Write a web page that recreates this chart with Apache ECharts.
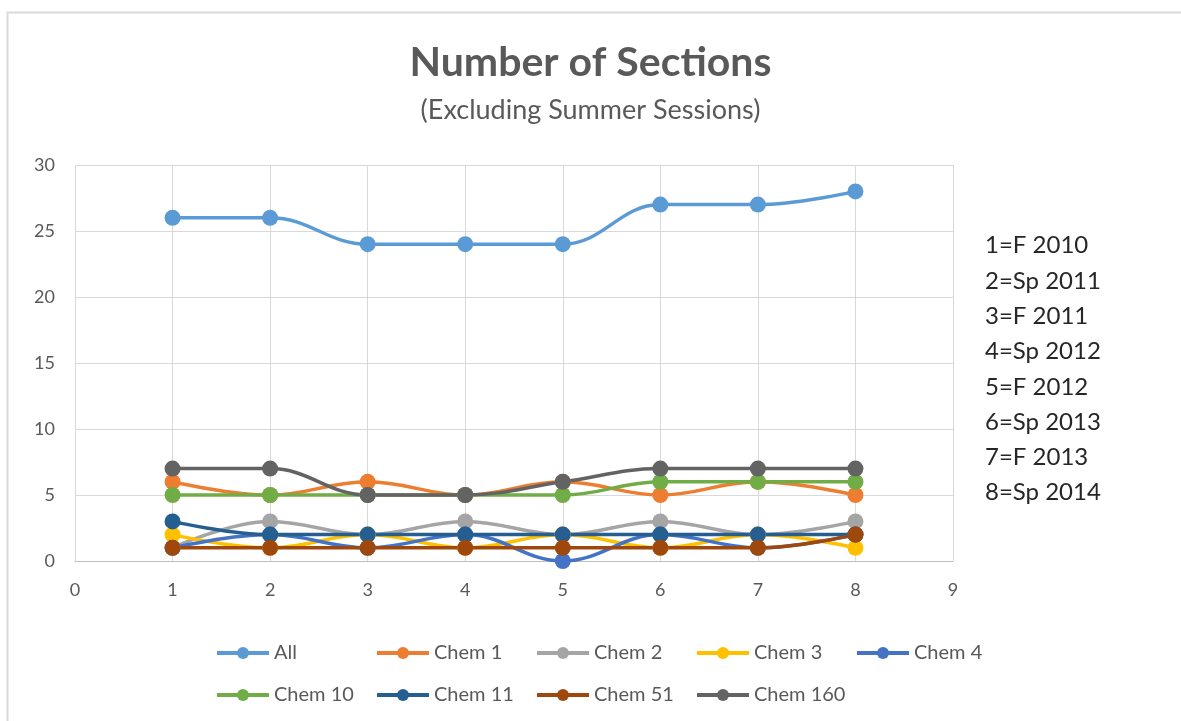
<!DOCTYPE html>
<html lang="en">

<head>
    <meta charset="UTF-8">
    <title>Number of Sections</title>
    <script src="https://cdn.jsdelivr.net/npm/echarts@6/dist/echarts.min.js"></script>
    <style>
        * {
            padding: 0;
            margin: 0;
        }

        html,
        body {
            width: 100%;
            height: 100%;
            background: #fff;
        }

        #main {
            width: 1181px;
            height: 721px;
        }
    </style>
</head>

<body>
    <div id="main"></div>
</body>

</html>
<script>
    // semesters 1..8
    let periods = [1, 2, 3, 4, 5, 6, 7, 8];
    let periodLabels = ['1=F 2010', '2=Sp 2011', '3=F 2011', '4=Sp 2012', '5=F 2012', '6=Sp 2013', '7=F 2013', '8=Sp 2014'];

    let all = [26, 26, 24, 24, 24, 27, 27, 28];
    let chem1 = [6, 5, 6, 5, 6, 5, 6, 5];
    let chem2 = [1, 3, 2, 3, 2, 3, 2, 3];
    let chem3 = [2, 1, 2, 1, 2, 1, 2, 1];
    let chem4 = [1, 2, 1, 2, 0, 2, 1, 2];
    let chem10 = [5, 5, 5, 5, 5, 6, 6, 6];
    let chem11 = [3, 2, 2, 2, 2, 2, 2, 2];
    let chem51 = [1, 1, 1, 1, 1, 1, 1, 2];
    let chem160 = [7, 7, 5, 5, 6, 7, 7, 7];

    let names = ['All', 'Chem 1', 'Chem 2', 'Chem 3', 'Chem 4', 'Chem 10', 'Chem 11', 'Chem 51', 'Chem 160'];
    let values = [all, chem1, chem2, chem3, chem4, chem10, chem11, chem51, chem160];
    let colors = ['#5B9BD5', '#ED7D31', '#A5A5A5', '#FFC000', '#4472C4', '#70AD47', '#255E91', '#9E480E', '#636363'];

    let font = 'Lato, "Open Sans", sans-serif';

    let series = names.map(function (name, i) {
        return {
            name: name,
            type: 'line',
            smooth: 0.4,
            symbol: 'circle',
            symbolSize: 16,
            lineStyle: { width: 3.5, color: colors[i] },
            itemStyle: { color: colors[i] },
            data: periods.map(function (p, j) { return [p, values[i][j]]; })
        };
    });

    // excel lays the legend out in 160px columns, 5 per row
    let legends = names.map(function (name, i) {
        return {
            left: 210 + (i % 5) * 160,
            top: i < 5 ? 638 : 680,
            data: [name],
            itemWidth: 52,
            itemHeight: 15,
            lineStyle: { width: 4 },
            textStyle: { fontFamily: font, fontSize: 20, color: '#595959' }
        };
    });

    var myChart = echarts.init(document.getElementById('main'));
    let option = {
        animation: false,
        color: colors,
        title: {
            left: 'center',
            top: 42,
            padding: [0, 0, 0, 44],
            text: 'Number of Sections',
            subtext: '(Excluding Summer Sessions)',
            itemGap: 14,
            textStyle: { fontFamily: font, fontSize: 41, fontWeight: 'bold', color: '#595959' },
            subtextStyle: { fontFamily: font, fontSize: 27, color: '#595959' }
        },
        graphic: [
            {
                type: 'rect',
                left: 5,
                top: 10,
                shape: { width: 1200, height: 730 },
                style: { fill: 'none', stroke: '#d9d9d9', lineWidth: 2 },
                silent: true
            },
            {
                type: 'text',
                left: 985,
                top: 228,
                style: {
                    text: periodLabels.join('\n'),
                    font: '24px ' + font,
                    fill: '#262626',
                    lineHeight: 35.3
                }
            }
        ],
        legend: legends,
        grid: {
            left: 75,
            right: 228,
            top: 165,
            bottom: 160
        },
        xAxis: {
            type: 'value',
            min: 0,
            max: 9,
            interval: 1,
            axisLine: { lineStyle: { color: '#bfbfbf' } },
            axisTick: { show: false },
            axisLabel: { margin: 20, fontFamily: font, fontSize: 18, color: '#595959' },
            splitLine: { show: true, lineStyle: { color: '#d9d9d9' } }
        },
        yAxis: {
            type: 'value',
            min: 0,
            max: 30,
            interval: 5,
            axisLine: { show: false },
            axisTick: { show: false },
            axisLabel: { margin: 20, fontFamily: font, fontSize: 18, color: '#595959' },
            splitLine: { lineStyle: { color: '#d9d9d9' } }
        },
        series: series
    };
    myChart.setOption(option);
</script>
